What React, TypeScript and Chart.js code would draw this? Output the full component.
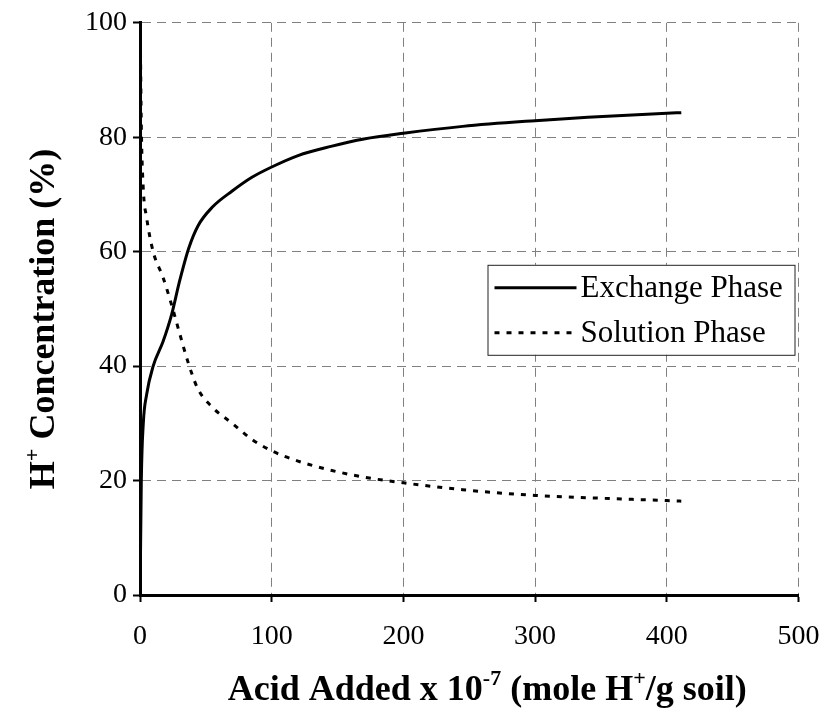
import React, { useEffect, useRef } from "react";
import { Chart, registerables } from "chart.js";

Chart.register(...registerables);

const xValues = [0.2, 1, 2.5, 5, 10, 17.5, 24, 30, 37, 44, 55, 70, 85, 100, 120, 145, 170, 200, 245, 300, 340, 400, 411];
const exchangePhase = [3, 20, 30, 35, 40, 44.3, 49, 54.8, 60.6, 64.5, 67.8, 70.6, 73, 74.8, 76.8, 78.4, 79.7, 80.7, 81.9, 82.9, 83.5, 84.2, 84.3];
const solutionPhase = [99, 82, 71, 66, 60, 55.5, 50.7, 45.8, 40.3, 36, 32.8, 30, 27.2, 25.2, 23.4, 21.8, 20.6, 19.6, 18.4, 17.4, 17, 16.5, 16.4];
const seriesLabels = ["Exchange Phase", "Solution Phase"];
const xTitle = [
  { t: "Acid Added x 10" },
  { t: "-7", sup: true },
  { t: " (mole H" },
  { t: "+", sup: true },
  { t: "/g soil)" },
];
const yTitle = [
  { t: "H" },
  { t: "+", sup: true },
  { t: " Concentration (%)" },
];

const FONT = "'Liberation Serif', 'Times New Roman', serif";

function drawRich(ctx: CanvasRenderingContext2D, segs: any[], size: number, cx: number, cy: number) {
  const supSize = Math.round(size * 0.62);
  let total = 0;
  const widths = segs.map((s) => {
    ctx.font = `bold ${s.sup ? supSize : size}px ${FONT}`;
    const w = ctx.measureText(s.t).width;
    total += w;
    return w;
  });
  let x = cx - total / 2;
  ctx.textBaseline = "alphabetic";
  ctx.textAlign = "left";
  segs.forEach((s, i) => {
    ctx.font = `bold ${s.sup ? supSize : size}px ${FONT}`;
    ctx.fillText(s.t, x, cy + size * 0.33 - (s.sup ? size * 0.42 : 0));
    x += widths[i];
  });
}

const titlesPlugin = {
  id: "richTitles",
  afterDraw(chart: any) {
    const { ctx, chartArea } = chart;
    ctx.save();
    ctx.fillStyle = "#000";
    drawRich(ctx, xTitle, 36, (chartArea.left + chartArea.right) / 2 + 18, 688);
    ctx.translate(42, (chartArea.top + chartArea.bottom) / 2 + 10);
    ctx.rotate(-Math.PI / 2);
    drawRich(ctx, yTitle, 36, 0, 0);
    ctx.restore();
  },
};

const legendPlugin = {
  id: "boxLegend",
  afterDraw(chart: any) {
    const { ctx, chartArea } = chart;
    const right = chartArea.right - 4;
    const left = right - 307;
    const top = chartArea.top + 242;
    const h = 90;
    ctx.save();
    ctx.fillStyle = "#fff";
    ctx.fillRect(left, top, right - left, h);
    ctx.strokeStyle = "#222";
    ctx.lineWidth = 1;
    ctx.strokeRect(left + 0.5, top + 0.5, right - left, h);
    chart.data.datasets.forEach((ds: any, i: number) => {
      const y = top + 23 + i * 45;
      ctx.beginPath();
      ctx.setLineDash(ds.borderDash || []);
      ctx.lineWidth = ds.borderWidth;
      ctx.strokeStyle = ds.borderColor;
      ctx.moveTo(left + 7, y);
      ctx.lineTo(left + 89, y);
      ctx.stroke();
      ctx.setLineDash([]);
      ctx.fillStyle = "#000";
      ctx.font = `31px ${FONT}`;
      ctx.textBaseline = "middle";
      ctx.textAlign = "left";
      ctx.fillText(ds.label, left + 93, y + 1);
    });
    ctx.restore();
  },
};

export default function App() {
  const ref = useRef<HTMLCanvasElement>(null);
  useEffect(() => {
    if (!ref.current) return;
    const chart = new Chart(ref.current, {
      type: "line",
      data: {
        datasets: [
          {
            label: seriesLabels[0],
            data: xValues.map((x, i) => ({ x, y: exchangePhase[i] })),
            borderColor: "#000",
            borderWidth: 3,
            pointRadius: 0,
            cubicInterpolationMode: "monotone",
            fill: false,
          },
          {
            label: seriesLabels[1],
            data: xValues.map((x, i) => ({ x, y: solutionPhase[i] })),
            borderColor: "#000",
            borderWidth: 3,
            borderDash: [5, 7],
            pointRadius: 0,
            cubicInterpolationMode: "monotone",
            fill: false,
          },
        ],
      },
      options: {
        animation: false,
        responsive: false,
        layout: { padding: { left: 0, right: 28.5, top: 20, bottom: 0 } },
        plugins: { legend: { display: false }, tooltip: { enabled: false } },
        scales: {
          x: {
            type: "linear",
            min: 0,
            max: 500,
            ticks: { stepSize: 100, color: "#000", font: { family: FONT, size: 28 }, padding: 18, maxRotation: 0 },
            grid: { color: "#808080", lineWidth: 1, tickColor: "#000", tickLength: 7, tickWidth: 2 },
            border: { display: true, color: "#000", width: 3, dash: [9, 6] },
            afterFit: (s: any) => { s.height = 129; s.paddingRight = 0; s.paddingLeft = 0; },
          },
          y: {
            type: "linear",
            min: 0,
            max: 100,
            ticks: { stepSize: 20, color: "#000", font: { family: FONT, size: 28 }, padding: 6 },
            grid: { color: "#808080", lineWidth: 1, tickColor: "#000", tickLength: 7, tickWidth: 2 },
            border: { display: true, color: "#000", width: 3, dash: [9, 6] },
            afterFit: (s: any) => { s.width = 140; },
          },
        },
      },
      plugins: [titlesPlugin, legendPlugin],
    } as any);
    return () => chart.destroy();
  }, []);
  return (
    <div style={{ position: "absolute", left: 0, top: 0, width: 827, height: 724, background: "#fff" }}>
      <canvas ref={ref} width={827} height={724} />
    </div>
  );
}
